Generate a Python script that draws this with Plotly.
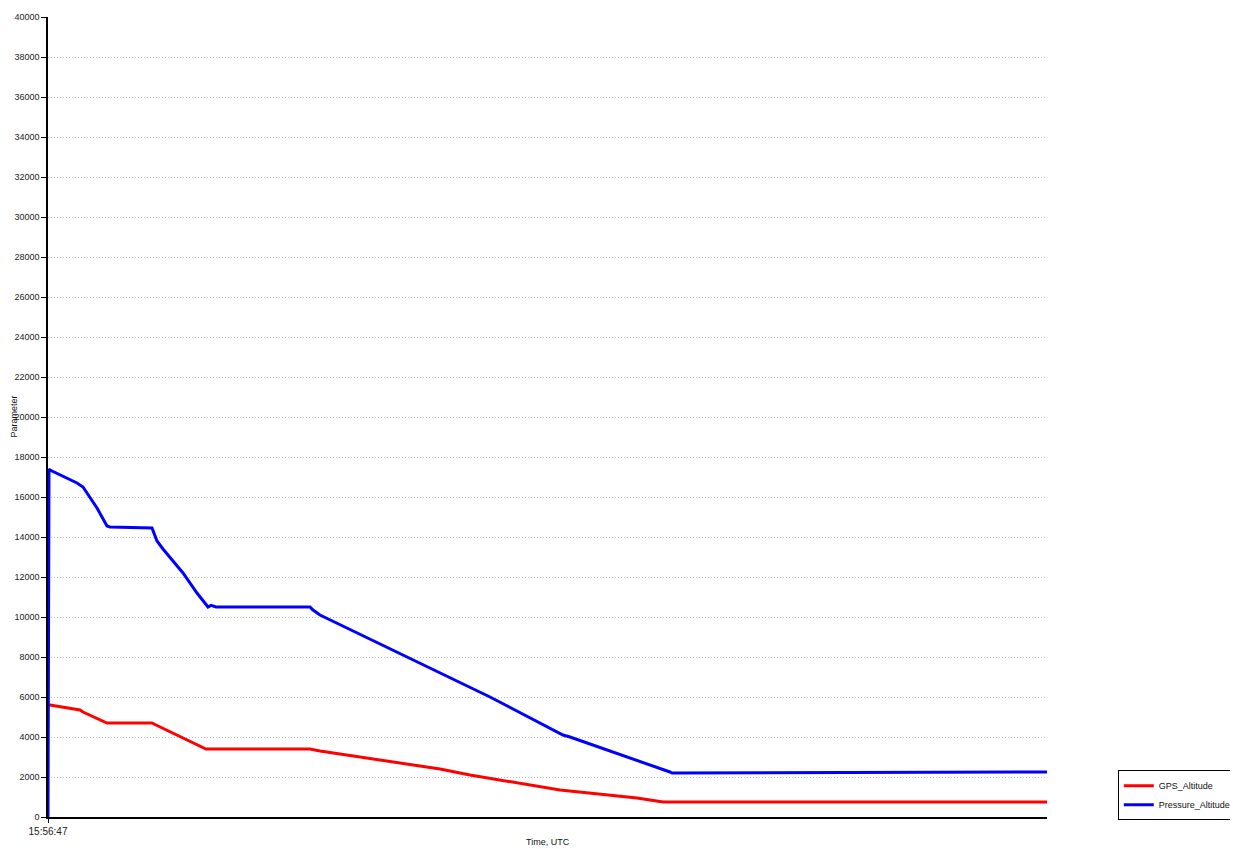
import plotly.graph_objects as go

# Sample index (time axis, only the start time is labelled)
start_label = "15:56:47"

pressure_x = [0, 0.3, 1, 2, 29, 35, 42, 49, 59, 62, 104, 109, 115, 135, 149, 158, 160, 163, 168,
              262, 265, 272, 442, 515, 522, 622, 624, 999]
pressure_alt = [0, 11400, 17400, 17350, 16700, 16500, 16000, 15450, 14550, 14500, 14450, 13800, 13400,
                12200, 11200, 10650, 10500, 10580, 10500, 10500, 10350, 10100, 6000, 4100, 4000,
                2250, 2200, 2250]

gps_x = [0, 2, 32, 35, 59, 104, 108, 158, 262, 272, 392, 422, 512, 589, 615, 999]
gps_alt = [5600, 5600, 5350, 5250, 4700, 4700, 4600, 3400, 3400, 3300, 2400, 2100, 1350, 950, 750, 750]

y_ticks = list(range(0, 40001, 2000))

FONT = "Liberation Sans, Arial, sans-serif"

fig = go.Figure()
fig.add_trace(go.Scatter(x=gps_x, y=gps_alt, mode="lines", name="GPS_Altitude",
                         line=dict(color="#ff0000", width=3)))
fig.add_trace(go.Scatter(x=pressure_x, y=pressure_alt, mode="lines", name="Pressure_Altitude",
                         line=dict(color="#0000ff", width=3)))

fig.update_layout(
    width=1230, height=841,
    margin=dict(l=40, r=191, t=9, b=32, autoexpand=False),
    paper_bgcolor="white", plot_bgcolor="white",
    font=dict(family=FONT, size=9, color="#222"),
    showlegend=True,
    legend=dict(x=1.19, xanchor="right", y=-0.004, yanchor="bottom",
                bgcolor="white", bordercolor="black", borderwidth=1,
                font=dict(size=9, color="#111"), itemwidth=30, tracegroupgap=0,
                traceorder="normal"),
    xaxis=dict(range=[0, 999], showgrid=False, zeroline=False,
               showline=True, linecolor="black", linewidth=1.5,
               ticks="outside", ticklen=4, tickcolor="black",
               tickvals=[0], ticktext=[start_label], tickfont=dict(size=10),
               automargin=False),
    yaxis=dict(range=[0, 40000], tickvals=y_ticks, ticktext=[str(v) for v in y_ticks],
               showgrid=True, gridcolor="#c0c0c0", griddash="1px,2px", gridwidth=1,
               zeroline=False, showline=True, linecolor="black", linewidth=1.5,
               ticks="outside", ticklen=5, tickcolor="black", tickfont=dict(size=9),
               automargin=False),
    annotations=[
        dict(text="Time, UTC", xref="paper", yref="paper", x=0.5, y=-0.031,
             xanchor="center", yanchor="middle", showarrow=False,
             font=dict(size=9, color="#111")),
        dict(text="Parameter", xref="paper", yref="paper", x=-0.0345, y=0.5,
             xanchor="center", yanchor="middle", textangle=-90, showarrow=False,
             font=dict(size=9, color="#111")),
    ],
)

fig.write_html("out.html")
